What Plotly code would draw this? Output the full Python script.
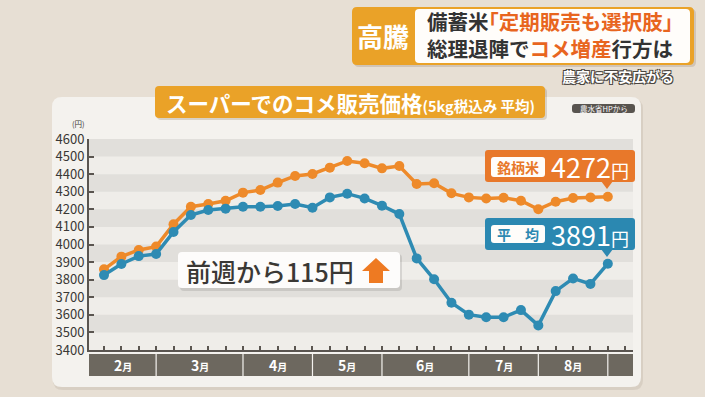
import plotly.graph_objects as go

# ---------------- data ----------------
weeks = list(range(30))
brand = [3859, 3931, 3969, 3988, 4115, 4215, 4230, 4249, 4295, 4310,
         4352, 4390, 4401, 4437, 4475, 4462, 4433, 4446, 4344, 4348,
         4291, 4268, 4262, 4266, 4249, 4200, 4243, 4264, 4268, 4272]
average = [3826, 3889, 3934, 3946, 4071, 4168, 4196, 4204, 4215, 4215,
           4219, 4230, 4209, 4268, 4289, 4262, 4221, 4173, 3921, 3802,
           3669, 3601, 3586, 3586, 3627, 3540, 3735, 3807, 3776, 3891]
month_labels = ["2月", "3月", "4月", "5月", "6月", "7月", "8月"]
month_edges = [-0.864, 3, 8, 12, 16, 21, 25, 29, 30.45]
y_ticks = list(range(3400, 4601, 100))
series_names = ["銘柄米", "平　均"]

# ---------------- styling ----------------
FONT = "Noto Sans CJK JP"
ORANGE = "#ee8a2a"
ORANGE_BOX = "#e8782a"
BLUE = "#2e8bb3"
BLUE_BOX = "#2b88b1"
AMBER = "#eaa228"
DARK = "#3a3835"

W, H = 705, 397
L, R, T, B = 89, 633, 139, 350


def PX(x):
    return (x - L) / (R - L)


def PY(y):
    return (B - y) / (B - T)


def rrect(x0, y0, x1, y1, r):
    def p(x, y):
        return f"{PX(x):.5f},{PY(y):.5f}"
    path = (f"M{p(x0 + r, y0)} L{p(x1 - r, y0)} Q{p(x1, y0)} {p(x1, y0 + r)} "
            f"L{p(x1, y1 - r)} Q{p(x1, y1)} {p(x1 - r, y1)} "
            f"L{p(x0 + r, y1)} Q{p(x0, y1)} {p(x0, y1 - r)} "
            f"L{p(x0, y0 + r)} Q{p(x0, y0)} {p(x0 + r, y0)} Z")
    return path


def poly(points):
    return "M" + " L".join(f"{PX(x):.5f},{PY(y):.5f}" for x, y in points) + " Z"


def pshape(path, fill, layer="above"):
    return dict(type="path", xref="paper", yref="paper", path=path,
                fillcolor=fill, line=dict(width=0), layer=layer)


fig = go.Figure()

fig.add_trace(go.Scatter(x=weeks, y=brand, mode="lines+markers", name=series_names[0],
                         line=dict(color=ORANGE, width=3.5),
                         marker=dict(color=ORANGE, size=10), cliponaxis=False,
                         showlegend=False))
fig.add_trace(go.Scatter(x=weeks, y=average, mode="lines+markers", name=series_names[1],
                         line=dict(color=BLUE, width=3.5),
                         marker=dict(color=BLUE, size=10), cliponaxis=False,
                         showlegend=False))

shapes = []
# panel
shapes.append(pshape(rrect(53, 99, 643, 390, 10), "rgba(90,70,50,0.10)", "below"))
shapes.append(pshape(rrect(52, 97, 641, 387, 10), "#f4f2ee", "below"))
# plot area light background + gray bands
shapes.append(dict(type="rect", xref="x domain", yref="y", x0=0, x1=1, y0=3400, y1=4600,
                   fillcolor="#efede9", line=dict(width=0), layer="below"))
for lo in range(3500, 4600, 200):
    shapes.append(dict(type="rect", xref="x domain", yref="y", x0=0, x1=1, y0=lo, y1=lo + 100,
                       fillcolor="#e1dfdb", line=dict(width=0), layer="below"))
# month band
shapes.append(dict(type="rect", xref="x domain", yref="paper", x0=0, x1=1,
                   y0=PY(376), y1=PY(354), fillcolor="#6d685f", line=dict(width=0), layer="above"))
for e in month_edges[1:-1]:
    shapes.append(dict(type="line", xref="x", yref="paper", x0=e, x1=e,
                       y0=PY(376), y1=PY(354), line=dict(color="#f4f2ee", width=1.2), layer="above"))
# title tab
shapes.append(pshape(rrect(157, 88, 547, 120, 4), "rgba(90,60,20,0.18)", "below"))
shapes.append(pshape(rrect(155, 86, 545, 118, 4), AMBER, "below"))
# source badge
shapes.append(pshape(rrect(572, 104, 635, 113, 3), "#58544f", "below"))
# headline banner
shapes.append(pshape(rrect(354, 9, 696, 67, 5), "rgba(80,50,20,0.15)", "below"))
shapes.append(pshape(rrect(352, 7, 694, 65, 5), AMBER, "below"))
shapes.append(pshape(rrect(415, 9, 690, 63, 4), "#fffdfa", "below"))
# "前週から" box
shapes.append(pshape(rrect(180, 254, 402, 291, 4), "rgba(0,0,0,0.10)"))
shapes.append(pshape(rrect(178, 252, 400, 288, 4), "#fdfcfb"))
shapes.append(pshape(poly([(376, 258), (390, 271), (383, 271), (383, 283),
                           (369, 283), (369, 271), (362, 271)]), "#ee7a22"))
# 銘柄米 label
shapes.append(pshape(rrect(485, 150, 635, 182, 3), ORANGE_BOX))
shapes.append(pshape(poly([(601, 181), (613, 181), (607, 189)]), ORANGE_BOX))
shapes.append(pshape(rrect(491, 157, 545, 177, 3), "#fffdfa"))
# 平均 label
shapes.append(pshape(rrect(485, 218, 635, 250, 3), BLUE_BOX))
shapes.append(pshape(poly([(601, 249), (613, 249), (607, 257)]), BLUE_BOX))
shapes.append(pshape(rrect(491, 225, 545, 243, 3), "#fffdfa"))

ann = []


def text(x, y, t, size, color, xanchor="center", **kw):
    ann.append(dict(x=PX(x), y=PY(y), xref="paper", yref="paper", text=t, showarrow=False,
                    xanchor=xanchor, yanchor="middle",
                    font=dict(family=FONT, size=size, color=color, **kw)))


# headline
text(383, 35, "<b>高騰</b>", 26, "white")
text(550, 34.5,
     "<b>備蓄米<span style='color:#e8651e'>｢定期販売も選択肢｣</span><br>"
     "総理退陣で<span style='color:#e8651e'>コメ増産</span>行方は</b>", 20.5, "#333333")
text(618, 76, "<b>農家に不安広がる</b>", 14, "white",
     shadow="-1px -1px 0 #4a4540, 1px -1px 0 #4a4540, -1px 1px 0 #4a4540, 1px 1px 0 #4a4540")
# title
text(350, 102, "<b>スーパーでのコメ販売価格<span style='font-size:14.5px'>(5kg税込み 平均)</span></b>",
     21.5, "white")
text(603.5, 108.5, "農水省HPから", 7.5, "white")
text(87, 123.5, "(円)", 7.5, DARK, xanchor="right")
# weekly change
diff = average[-1] - average[-2]
text(270, 271, f"前週から{diff}円", 25, DARK, weight=500)
# series labels
text(518, 167, f"<b>{series_names[0]}</b>", 14, ORANGE_BOX)
text(590, 166, f"{brand[-1]}<span style='font-size:18px'>円</span>", 27, "white")
text(518, 234, f"<b>{series_names[1]}</b>", 14, BLUE_BOX)
text(590, 234, f"{average[-1]}<span style='font-size:18px'>円</span>", 27, "white")
# month labels
for i, m in enumerate(month_labels):
    cx = (month_edges[i] + month_edges[i + 1]) / 2
    ann.append(dict(x=cx, y=PY(365), xref="x", yref="paper",
                    text=f"<b>{m[:-1]}<span style='font-size:10px'>{m[-1]}</span></b>",
                    showarrow=False, xanchor="center", yanchor="middle",
                    font=dict(family=FONT, size=14, color="white")))

fig.update_layout(
    width=W, height=H, autosize=False,
    margin=dict(l=L, r=W - R, t=T, b=H - B, pad=0),
    paper_bgcolor="#e7dfd4", plot_bgcolor="rgba(0,0,0,0)",
    font=dict(family=FONT, color=DARK),
    shapes=shapes, annotations=ann, showlegend=False,
    xaxis=dict(range=[month_edges[0], month_edges[-1]], tickvals=list(range(31)),
               showticklabels=False, ticks="inside", ticklen=4, tickwidth=1.5,
               tickcolor="#5a5550", showline=True, linecolor="#5a5550", linewidth=2,
               showgrid=False, zeroline=False, fixedrange=True),
    yaxis=dict(range=[3400, 4600], tickvals=y_ticks, ticks="inside", ticklen=5, tickwidth=2,
               tickcolor="#5a5550", showline=True, linecolor="#5a5550", linewidth=2,
               tickfont=dict(family=FONT, size=13, color=DARK),
               showgrid=False, zeroline=False, fixedrange=True),
)

fig.write_html("out.html", config={"displayModeBar": False},
               post_script="document.body.style.margin='0';document.body.style.overflow='hidden';")
